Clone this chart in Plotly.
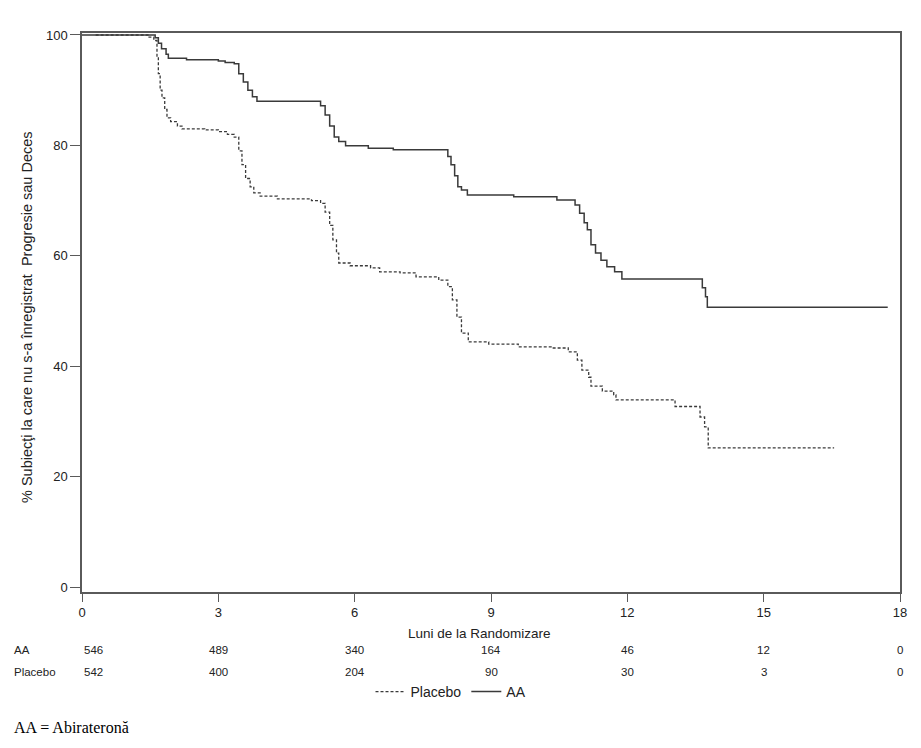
import plotly.graph_objects as go

# Kaplan-Meier step data (months, % without progression or death)
aa_t = [0, 1.61, 1.68, 1.75, 1.85, 1.90, 2.3, 3.0, 3.15, 3.35, 3.45, 3.55, 3.65, 3.75, 3.85,
        5.25, 5.35, 5.45, 5.55, 5.65, 5.8, 6.3, 6.85, 8.05, 8.12, 8.2, 8.27, 8.35, 8.48,
        9.5, 10.45, 10.85, 10.95, 11.05, 11.12, 11.2, 11.3, 11.42, 11.55, 11.72, 11.88,
        13.65, 13.72, 13.76, 17.73]
aa_s = [100, 99.5, 98.5, 97.5, 96.5, 95.8, 95.5, 95.3, 95.0, 94.8, 93, 91.5, 90, 88.8, 88.0,
        87.2, 85.5, 83.5, 81.5, 80.7, 79.95, 79.5, 79.2, 78, 76.5, 74.5, 72.5, 71.9, 71.0,
        70.7, 70.1, 69.2, 67.7, 66, 64.7, 62, 60.5, 59.2, 58, 57.1, 55.8,
        54.2, 52.6, 50.7, 50.7]

pl_t = [0.3, 1.45, 1.58, 1.65, 1.68, 1.72, 1.76, 1.82, 1.87, 1.95, 2.1, 2.2, 2.7, 3.0, 3.2, 3.35,
        3.45, 3.52, 3.6, 3.7, 3.78, 3.92, 4.3, 5.05, 5.25, 5.35, 5.45, 5.52, 5.6, 5.65, 5.9,
        6.35, 6.55, 7.0, 7.35, 7.85, 8.05, 8.15, 8.25, 8.35, 8.5, 8.95, 9.6, 10.35, 10.7,
        10.9, 11.0, 11.15, 11.2, 11.45, 11.7, 11.75, 13.05, 13.6, 13.7, 13.78, 16.55]
pl_s = [100, 99.6, 99.0, 96, 93, 90, 88.6, 86.5, 85.0, 84.3, 83.5, 83.0, 82.8, 82.5, 82.0, 81.5,
        79, 76.5, 74, 72.5, 71.4, 70.8, 70.3, 70.0, 69.5, 67.9, 65.5, 62.9, 60.5, 58.7, 58.2,
        57.8, 57.1, 56.9, 56.2, 55.6, 54.4, 52, 48.9, 46, 44.4, 44.0, 43.5, 43.3, 42.6,
        41.1, 39.3, 38, 36.4, 35.5, 34.8, 33.9, 32.7, 30.8, 29, 25.2, 25.2]

tick_months = [0, 3, 6, 9, 12, 15, 18]
risk_aa = [546, 489, 340, 164, 46, 12, 0]
risk_pl = [542, 400, 204, 90, 30, 3, 0]
y_ticks = [0, 20, 40, 60, 80, 100]

font_sans = "Liberation Sans, Arial, sans-serif"
txt_col = "#222222"
line_col = "#3a3a3a"
axis_col = "#5a5a5a"

fig = go.Figure()
fig.add_trace(go.Scatter(x=pl_t, y=pl_s, mode="lines", name="Placebo",
                         line=dict(color=line_col, width=1.3, dash="3px,2px", shape="hv")))
fig.add_trace(go.Scatter(x=aa_t, y=aa_s, mode="lines", name="AA",
                         line=dict(color=line_col, width=1.5, shape="hv")))

W, H = 921, 748
L, R, T, B = 82, 21, 33, 156
plot_h = H - T - B
plot_w = W - L - R

def py(pix):
    return (H - B - pix) / plot_h

def px(pix):
    return (pix - L) / plot_w

annotations = []
annotations.append(dict(text="Luni de la Randomizare", xref="paper", yref="paper",
                        x=px(479), y=py(633), xanchor="center", yanchor="middle",
                        showarrow=False, font=dict(family=font_sans, size=13.5, color=txt_col)))
annotations.append(dict(text="% Subiecţi la care nu s-a înregistrat  Progresie sau Deces",
                        xref="paper", yref="paper", x=px(27), y=py(317), textangle=-90,
                        xanchor="center", yanchor="middle", showarrow=False,
                        font=dict(family=font_sans, size=14.5, color=txt_col)))
for label, vals, ypix in [("AA", risk_aa, 650), ("Placebo", risk_pl, 672)]:
    annotations.append(dict(text=label, xref="paper", yref="paper", x=px(12), y=py(ypix),
                            xanchor="left", yanchor="middle", showarrow=False,
                            font=dict(family=font_sans, size=11.5, color=txt_col)))
    for i, (m, v) in enumerate(zip(tick_months, vals)):
        annotations.append(dict(text=str(v), xref="x", yref="paper", x=m, y=py(ypix),
                                xanchor="left" if i == 0 else "center", yanchor="middle",
                                showarrow=False,
                                font=dict(family=font_sans, size=11.5, color=txt_col)))
annotations.append(dict(text="AA = Abirateronă", xref="paper", yref="paper",
                        x=px(12), y=py(727), xanchor="left", yanchor="middle", showarrow=False,
                        font=dict(family="Liberation Serif, Times New Roman, serif", size=16,
                                  color="#000000")))

fig.update_layout(
    width=W, height=H,
    margin=dict(l=L, r=R, t=T, b=B),
    paper_bgcolor="white", plot_bgcolor="white",
    font=dict(family=font_sans, size=12, color=txt_col),
    showlegend=True,
    legend=dict(orientation="h", x=px(451), y=py(692), xanchor="center", yanchor="middle",
                font=dict(family=font_sans, size=14, color=txt_col), bgcolor="rgba(0,0,0,0)",
                itemwidth=30),
    annotations=annotations,
    xaxis=dict(range=[0, 18], tickvals=tick_months, ticktext=[str(t) for t in tick_months],
               showgrid=False, zeroline=False, showline=True, linecolor=axis_col, linewidth=1.5,
               mirror=True, ticks="outside", ticklen=8, tickcolor=axis_col,
               tickfont=dict(family=font_sans, size=13, color=txt_col)),
    yaxis=dict(range=[-0.9, 100.36], tickvals=y_ticks, showgrid=False, zeroline=False,
               showline=True, linecolor=axis_col, linewidth=1.5, mirror=True,
               ticks="outside", ticklen=10, tickcolor=axis_col,
               tickfont=dict(family=font_sans, size=13, color=txt_col)),
)

fig.write_html("out.html")
